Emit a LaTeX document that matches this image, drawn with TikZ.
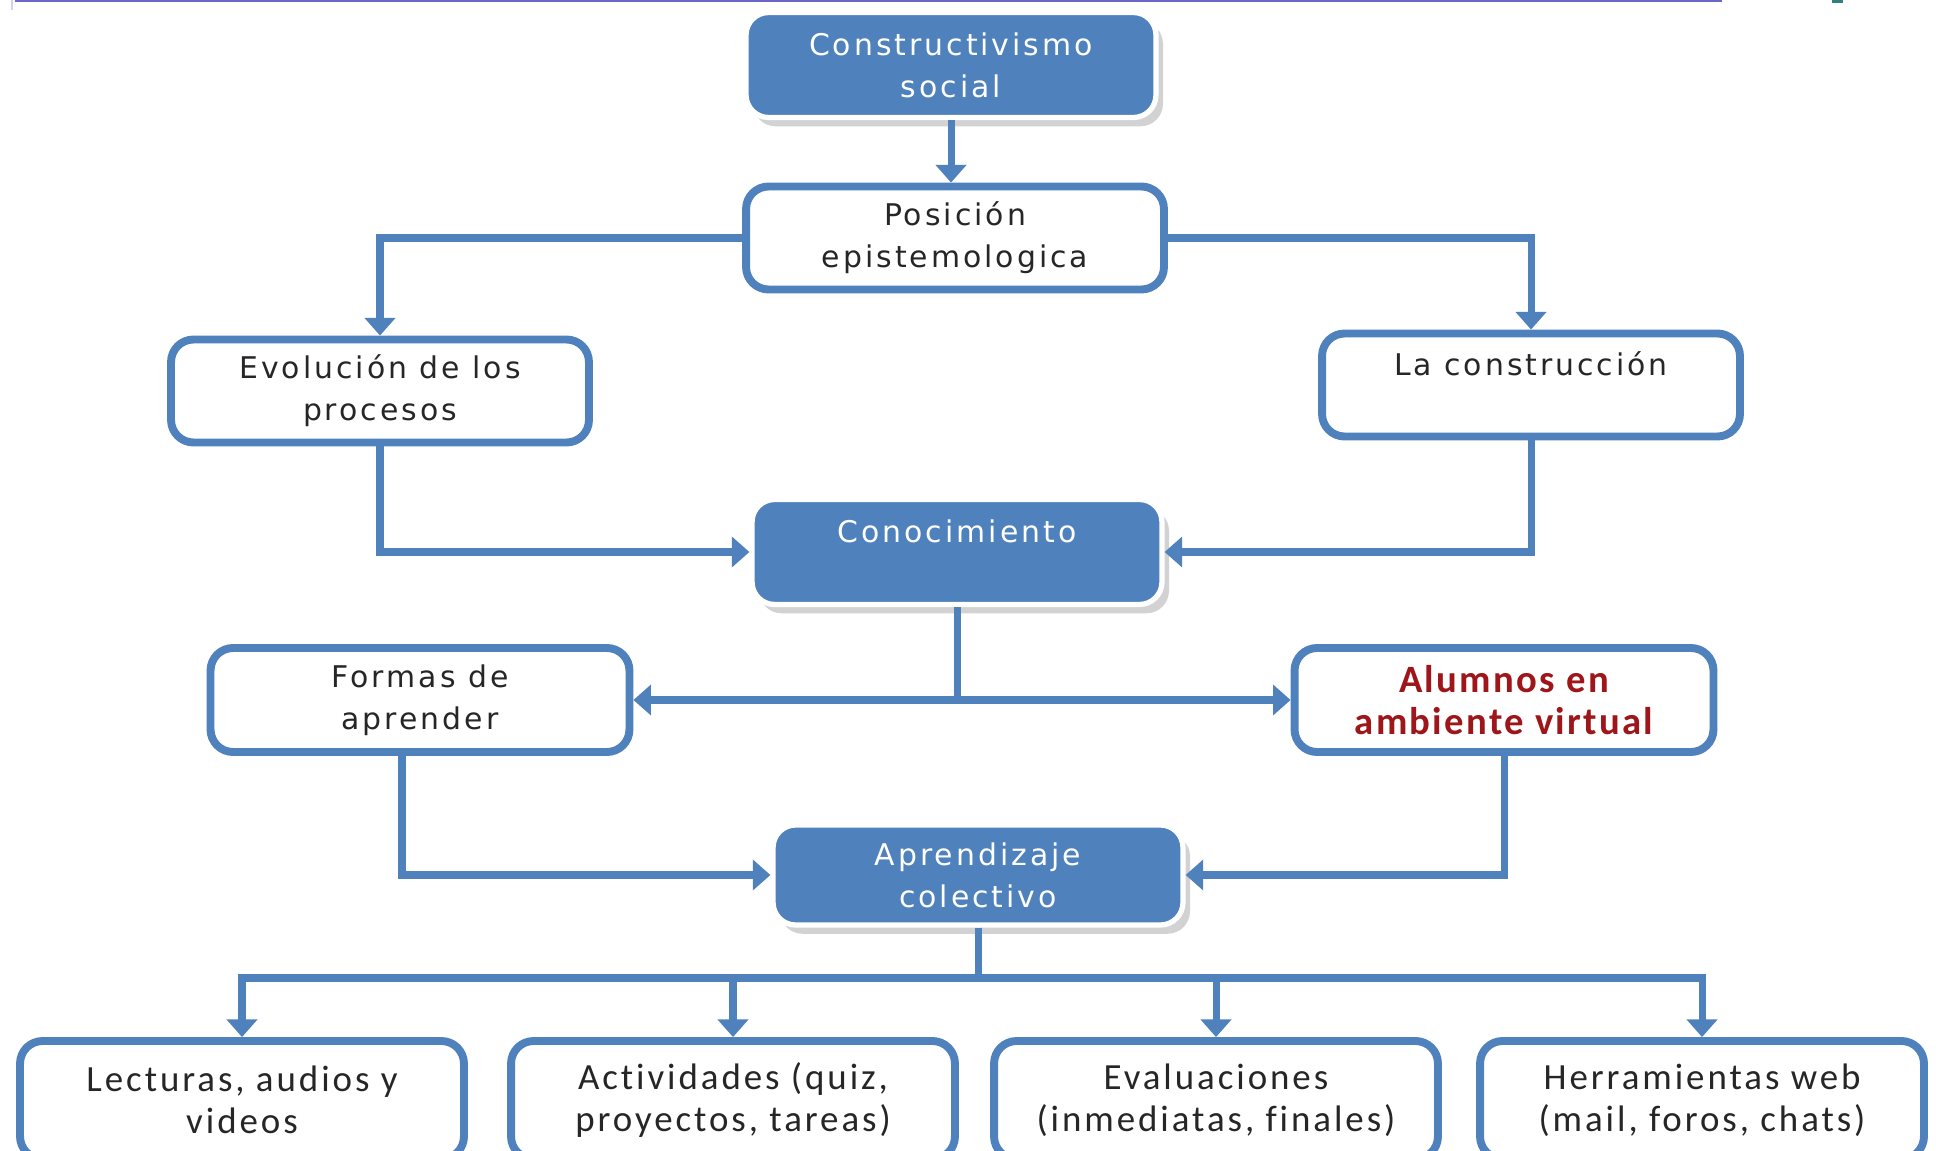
\documentclass[tikz,border=0pt]{standalone}
\usepackage{fontspec}
\usetikzlibrary{arrows.meta,shadows}
\newfontfamily\boxfont{DejaVu Sans}[LetterSpace=10,Ligatures=NoCommon]
\newfontfamily\lowfont{Carlito}[LetterSpace=8,Ligatures=NoCommon]
\definecolor{boxblue}{RGB}{79,129,189}
\definecolor{alured}{RGB}{158,22,26}
\definecolor{rulelila}{RGB}{106,103,201}
\tikzset{
	plainbox/.style={draw=boxblue, line width=4.5pt, fill=white, rounded corners=0.45cm,
		align=center, text=black!85, inner sep=0pt,
		font=\boxfont\fontsize{17}{24}\selectfont,
		minimum width=8.36cm, minimum height=2.06cm},
	solidbox/.style={plainbox, fill=boxblue, draw=white, line width=3pt, text=white,
		minimum width=8.2cm, minimum height=2.1cm,
		drop shadow={shadow xshift=4pt, shadow yshift=-5pt, fill=black!35}},
	lowbox/.style={plainbox, font=\lowfont\fontsize{21}{24}\selectfont,
		minimum width=8.88cm, minimum height=2.36cm},
	bus/.style={draw=boxblue, line width=4pt},
	link/.style={bus, -{Triangle[width=17pt,length=10pt]}},
}

\begin{document}
\begin{tikzpicture}[x=0.02cm, y=-0.02cm]
	\useasboundingbox (0,0) rectangle (1936,1151);
	\fill[white] (0,0) rectangle (1936,1151);
	% slide edge
	\draw[rulelila, line width=1.2pt] (15,1) -- (1722,1);
	\draw[rulelila!30, line width=0.6pt] (12,0) -- (12,10);
	\fill[teal!60!gray] (1832,0) rectangle (1843,3);
	
	% upper part
	\node[solidbox] (cons) at (951,65) {Constructivismo\\social};
	\node[plainbox] (pos) at (955,238) {Posición\\epistemologica};
	\node[plainbox] (evol) at (380,391) {Evolución de los\\procesos};
	\node[plainbox] (lacons) at (1531,385) {La construcción\\~};
	\node[solidbox] (conoc) at (957,552) {Conocimiento\\~};
	
	\draw[link] (cons.south) -- (cons.south |- pos.north);
	\draw[link] (pos.west) -| (evol.north);
	\draw[link] (pos.east) -| (lacons.north);
	\draw[link] (evol.south) |- (conoc.west);
	\draw[link] (lacons.south) |- (conoc.east);
	
	% middle part
	\node[plainbox, minimum width=8.38cm, minimum height=2.08cm] (formas) at (420,700) {Formas de\\aprender};
	\node[plainbox, minimum width=8.38cm, minimum height=2.08cm, text=alured,
		font=\lowfont\fontsize{22}{24}\selectfont\bfseries\addfontfeature{LetterSpace=6}] (alum) at (1504,700) {Alumnos en\\ambiente virtual};
	\node[solidbox, minimum height=2.0cm] (aprend) at (978,875) {Aprendizaje\\colectivo};
	
	\draw[link] (conoc.south) |- (formas.east);
	\draw[link] (conoc.south) |- (alum.west);
	\draw[link] ([xshift=-0.36cm]formas.south) |- (aprend.west);
	\draw[link] (alum.south) |- (aprend.east);
	
	% lower part
	\node[lowbox] (low1) at (242,1100) {Lecturas, audios y\\videos};
	\node[lowbox] (low2) at (733,1100) {Actividades (quiz,\\proyectos, tareas)};
	\node[lowbox] (low3) at (1216,1100) {Evaluaciones\\(inmediatas, finales)};
	\node[lowbox] (low4) at (1702,1100) {Herramientas web\\(mail, foros, chats)};
	
	\coordinate (gbus) at (978,978);
	\foreach \i in {1,...,4} {
		\draw[link] (aprend.south) -- (gbus) -| (low\i.north);
	}
\end{tikzpicture}
\end{document}
